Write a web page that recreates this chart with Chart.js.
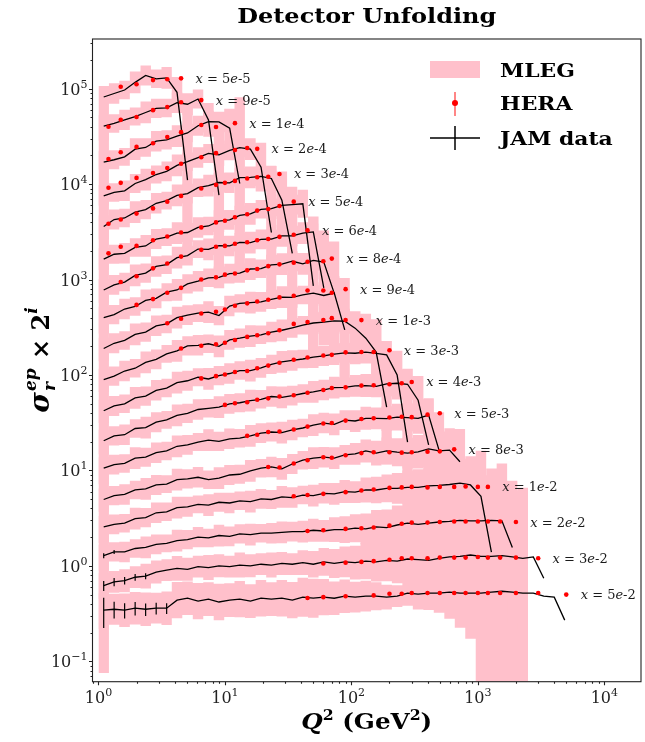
<!DOCTYPE html>
<html>
<head>
<meta charset="utf-8">
<script src="https://cdn.jsdelivr.net/npm/chart.js@4.4.0/dist/chart.umd.min.js"></script>
<style>
  html, body { margin: 0; padding: 0; background: #fff; }
  #wrap { width: 645px; height: 742px; }
</style>
</head>
<body>
<div id="wrap"><canvas id="unfoldChart" width="645" height="742"></canvas></div>
<script>
// x bins, top curve first; each curve is scaled by 2^i
const xBins = ["5e-5", "9e-5", "1e-4", "2e-4", "3e-4", "5e-4", "6e-4", "8e-4", "9e-4",
  "1e-3", "3e-3", "4e-3", "5e-3", "8e-3", "1e-2", "2e-2", "3e-2", "5e-2"];
const binPow = [17, 16, 15, 14, 13, 12, 11, 10, 9, 8, 7, 6, 5, 4, 3, 2, 1, 0];

// Q2 nodes of the JAM pseudo data and the MLEG bin edges
const q2Grid = [1.10, 1.33, 1.61, 1.95, 2.36, 2.86, 3.46, 4.18, 5.06, 6.13, 7.41, 8.97, 10.9, 13.1,
  15.9, 19.3, 23.3, 28.2, 34.1, 41.3, 50.0, 60.5, 73.2, 88.6, 107, 130, 157, 190, 230, 278, 337,
  408, 493, 597, 722, 874, 1058, 1280, 1549, 1874, 2268, 2745, 3321, 4019, 4862];
const q2Edges = [1.0, 1.21, 1.46, 1.77, 2.15, 2.6, 3.15, 3.8, 4.6, 5.57, 6.74, 8.15, 9.87, 11.9,
  14.4, 17.5, 21.2, 25.6, 31.0, 37.5, 45.4, 55.0, 66.5, 80.5, 97.3, 118, 143, 173, 209, 253, 306,
  371, 448, 543, 657, 795, 962, 1164, 1408, 1704, 2062, 2495, 3019, 3653, 4420, 5350];

// JAM data: sigma_r (unscaled) on q2Grid
const jamSigma = [
  [0.625, 0.68, 0.74, 0.89, 1.05, 0.97, 0.99, 0.70, 0.084],
  [0.62, 0.66, 0.72, 0.78, 0.86, 0.95, 0.96, 1.09, 1.05, 1.19, 0.72, 0.117],
  [0.52, 0.55, 0.59, 0.71, 0.74, 0.86, 0.89, 0.97, 1.05, 1.25, 1.38, 1.37, 1.18, 0.31],
  [0.46, 0.50, 0.52, 0.62, 0.68, 0.77, 0.83, 0.96, 1.05, 1.16, 1.28, 1.24, 1.38, 1.47, 1.42, 0.92, 0.19],
  [0.44, 0.52, 0.54, 0.62, 0.66, 0.77, 0.82, 0.93, 0.97, 1.12, 1.18, 1.27, 1.26, 1.43, 1.44, 1.47, 1.40, 0.83, 0.23],
  [0.40, 0.45, 0.46, 0.53, 0.55, 0.65, 0.68, 0.75, 0.76, 0.86, 0.89, 1.0, 1.03, 1.15, 1.19, 1.33, 1.35, 1.46, 1.49, 1.52, 0.21],
  [0.38, 0.43, 0.46, 0.54, 0.57, 0.67, 0.70, 0.83, 0.87, 1.02, 1.01, 1.11, 1.10, 1.20, 1.19, 1.29, 1.30, 1.40, 1.40, 1.50, 1.54, 0.40],
  [0.39, 0.42, 0.48, 0.51, 0.59, 0.62, 0.72, 0.76, 0.88, 0.94, 1.02, 1.03, 1.13, 1.14, 1.26, 1.27, 1.39, 1.42, 1.52, 1.43, 1.55, 1.49, 0.70],
  [0.37, 0.42, 0.45, 0.52, 0.55, 0.64, 0.67, 0.78, 0.83, 0.87, 0.89, 0.82, 1.03, 1.10, 1.12, 1.14, 1.21, 1.28, 1.27, 1.35, 1.41, 1.33, 1.41, 0.58],
  [0.35, 0.38, 0.43, 0.46, 0.53, 0.57, 0.65, 0.70, 0.79, 0.80, 0.83, 0.78, 0.91, 0.95, 1.0, 1.03, 1.10, 1.15, 1.22, 1.30, 1.37, 1.40, 1.44, 1.43, 1.21, 0.95, 0.68, 0.18],
  [0.33, 0.37, 0.39, 0.45, 0.47, 0.54, 0.57, 0.65, 0.68, 0.74, 0.71, 0.77, 0.81, 0.87, 0.87, 0.93, 1.01, 1.07, 1.11, 1.15, 1.20, 1.24, 1.29, 1.33, 1.32, 1.36, 1.32, 1.27, 0.78, 0.155],
  [0.32, 0.36, 0.37, 0.43, 0.44, 0.50, 0.53, 0.59, 0.62, 0.68, 0.70, 0.72, 0.78, 0.80, 0.84, 0.87, 0.93, 0.91, 0.95, 1.00, 1.04, 1.09, 1.15, 1.16, 1.20, 1.21, 1.19, 1.26, 1.28, 1.25, 0.85, 0.29],
  [0.33, 0.36, 0.37, 0.42, 0.43, 0.48, 0.50, 0.56, 0.58, 0.62, 0.65, 0.63, 0.67, 0.68, 0.72, 0.77, 0.79, 0.78, 0.83, 0.87, 0.93, 0.98, 0.95, 1.05, 1.03, 1.10, 1.10, 1.09, 1.13, 1.12, 1.10, 1.19, 0.51],
  [0.31, 0.34, 0.35, 0.39, 0.40, 0.44, 0.45, 0.50, 0.51, 0.53, 0.50, 0.52, 0.56, 0.57, 0.62, 0.66, 0.68, 0.65, 0.73, 0.80, 0.84, 0.86, 0.84, 0.91, 0.93, 1.0, 0.95, 1.0, 0.97, 0.95, 0.98, 1.05, 1.0, 1.02, 0.77],
  [0.32, 0.34, 0.35, 0.39, 0.40, 0.45, 0.46, 0.51, 0.52, 0.55, 0.54, 0.58, 0.57, 0.60, 0.59, 0.63, 0.62, 0.66, 0.65, 0.69, 0.68, 0.72, 0.71, 0.75, 0.74, 0.78, 0.78, 0.81, 0.81, 0.83, 0.83, 0.86, 0.87, 0.89, 0.92, 0.88, 0.67, 0.174],
  [0.32, 0.35, 0.35, 0.38, 0.39, 0.42, 0.43, 0.46, 0.47, 0.50, 0.49, 0.52, 0.51, 0.54, 0.53, 0.55, 0.55, 0.56, 0.57, 0.57, 0.59, 0.58, 0.60, 0.60, 0.62, 0.61, 0.64, 0.63, 0.67, 0.70, 0.68, 0.70, 0.72, 0.73, 0.75, 0.74, 0.74, 0.75, 0.74, 0.39],
  [0.31, 0.34, 0.35, 0.38, 0.39, 0.43, 0.45, 0.47, 0.46, 0.49, 0.48, 0.50, 0.49, 0.51, 0.50, 0.52, 0.51, 0.53, 0.52, 0.54, 0.52, 0.55, 0.53, 0.55, 0.54, 0.56, 0.55, 0.57, 0.56, 0.59, 0.58, 0.57, 0.60, 0.62, 0.63, 0.65, 0.63, 0.63, 0.64, 0.62, 0.60, 0.62, 0.37],
  [0.343, 0.351, 0.343, 0.36, 0.351, 0.36, 0.36, 0.437, 0.458, 0.427, 0.448, 0.418, 0.437, 0.448, 0.427, 0.458, 0.448, 0.458, 0.437, 0.47, 0.458, 0.47, 0.458, 0.481, 0.47, 0.481, 0.481, 0.47, 0.481, 0.517, 0.505, 0.517, 0.517, 0.53, 0.517, 0.517, 0.517, 0.53, 0.542, 0.53, 0.517, 0.517, 0.481, 0.47, 0.27]
];
// relative JAM uncertainties (only the low-Q2 nodes of the last bins are visible)
const jamErr = [[], [], [], [], [], [], [], [], [], [], [], [], [], [], [],
  [0.06, 0.05],
  [0.12, 0.10, 0.09, 0.08, 0.07],
  [0.35, 0.20, 0.18, 0.16, 0.15, 0.14, 0.13]];

// MLEG band: relative half width per bin, low edge of the first bin, number of bins
const mlegWidth = [
  [0.3, 0.28, 0.25, 0.3, 0.27, 0.25, 0.3, 0.45, 6],
  [0.3, 0.25, 0.28, 0.24, 0.3, 0.26, 0.25, 0.28, 0.3, 0.26, 0.5, 6],
  [0.3, 0.26, 0.24, 0.3, 0.25, 0.28, 0.26, 0.3, 0.25, 0.27, 0.3, 0.28, 0.6, 7],
  [0.3, 0.25, 0.28, 0.26, 0.3, 0.24, 0.27, 0.3, 0.25, 0.28, 0.26, 0.3, 0.27, 0.25, 0.3, 0.8, 4],
  [0.3, 0.27, 0.25, 0.3, 0.26, 0.28, 0.24, 0.3, 0.27, 0.25, 0.3, 0.26, 0.28, 0.25, 0.3, 0.27, 0.35, 1.0, 4],
  [0.3, 0.26, 0.28, 0.25, 0.3, 0.27, 0.24, 0.3, 0.26, 0.28, 0.25, 0.3, 0.27, 0.26, 0.3, 0.25, 0.28, 0.3, 0.27, 0.4, 3.5],
  [0.3, 0.27, 0.25, 0.3, 0.26, 0.28, 0.25, 0.3, 0.27, 0.24, 0.3, 0.26, 0.28, 0.25, 0.3, 0.27, 0.26, 0.3, 0.28, 0.3, 0.45, 3],
  [0.3, 0.26, 0.28, 0.25, 0.3, 0.27, 0.24, 0.3, 0.26, 0.28, 0.25, 0.3, 0.27, 0.26, 0.3, 0.25, 0.28, 0.3, 0.27, 0.3, 0.28, 0.5, 2.5],
  [0.3, 0.27, 0.25, 0.3, 0.26, 0.28, 0.25, 0.3, 0.27, 0.24, 0.3, 0.26, 0.28, 0.25, 0.3, 0.27, 0.26, 0.3, 0.28, 0.25, 0.3, 0.28, 0.5, 2.5],
  [0.3, 0.26, 0.28, 0.25, 0.3, 0.27, 0.24, 0.3, 0.26, 0.28, 0.25, 0.3, 0.27, 0.26, 0.3, 0.25, 0.28, 0.3, 0.27, 0.25, 0.3, 0.28, 0.3, 0.35, 0.5, 0.8, 1.2, 3],
  [0.3, 0.27, 0.25, 0.3, 0.26, 0.28, 0.25, 0.3, 0.27, 0.24, 0.3, 0.26, 0.28, 0.25, 0.3, 0.27, 0.26, 0.3, 0.28, 0.25, 0.3, 0.28, 0.3, 0.27, 0.3, 0.32, 0.35, 0.4, 0.8, 2.5],
  [0.3, 0.26, 0.28, 0.25, 0.3, 0.27, 0.24, 0.3, 0.26, 0.28, 0.25, 0.3, 0.27, 0.26, 0.3, 0.25, 0.28, 0.3, 0.27, 0.25, 0.3, 0.28, 0.3, 0.27, 0.3, 0.32, 0.3, 0.35, 0.4, 0.45, 0.8, 2],
  [0.3, 0.27, 0.25, 0.3, 0.26, 0.28, 0.25, 0.3, 0.27, 0.24, 0.3, 0.26, 0.28, 0.25, 0.3, 0.27, 0.26, 0.3, 0.28, 0.25, 0.3, 0.28, 0.3, 0.27, 0.3, 0.32, 0.3, 0.35, 0.38, 0.4, 0.45, 0.5, 1.5],
  [0.3, 0.26, 0.28, 0.25, 0.3, 0.27, 0.24, 0.3, 0.26, 0.28, 0.25, 0.3, 0.27, 0.26, 0.3, 0.25, 0.28, 0.3, 0.27, 0.25, 0.3, 0.28, 0.3, 0.27, 0.3, 0.32, 0.35, 0.38, 0.4, 0.45, 0.5, 0.55, 0.6, 0.7, 1.2],
  [0.3, 0.27, 0.25, 0.3, 0.26, 0.28, 0.25, 0.3, 0.27, 0.24, 0.3, 0.26, 0.28, 0.25, 0.3, 0.27, 0.26, 0.3, 0.28, 0.25, 0.3, 0.28, 0.3, 0.32, 0.3, 0.35, 0.38, 0.4, 0.45, 0.5, 0.55, 0.6, 0.65, 0.7, 0.8, 1.0, 2.0, 4.0],
  [0.3, 0.26, 0.28, 0.25, 0.3, 0.27, 0.24, 0.3, 0.26, 0.28, 0.25, 0.3, 0.27, 0.26, 0.3, 0.25, 0.28, 0.3, 0.27, 0.3, 0.32, 0.3, 0.35, 0.38, 0.4, 0.45, 0.5, 0.55, 0.6, 0.65, 0.7, 0.8, 0.9, 1.0, 1.2, 1.5, 2.0, 2.5, 3.0, 4.0],
  [0.35, 0.3, 0.32, 0.3, 0.35, 0.32, 0.3, 0.35, 0.32, 0.3, 0.35, 0.32, 0.3, 0.35, 0.32, 0.3, 0.35, 0.32, 0.3, 0.35, 0.38, 0.4, 0.42, 0.45, 0.5, 0.55, 0.6, 0.65, 0.7, 0.8, 0.9, 1.0, 1.1, 1.3, 1.5, 1.8, 2.5, 3.0, 3.5, 4.0, 4.5],
  [0.5, 0.45, 0.5, 0.48, 0.5, 0.45, 0.5, 0.55, 0.5, 0.55, 0.5, 0.55, 0.5, 0.55, 0.5, 0.55, 0.5, 0.55, 0.55, 0.6, 0.6, 0.55, 0.5, 0.5, 0.45, 0.45, 0.4, 0.35, 0.3, 0.35, 0.45, 0.5, 0.6, 0.9, 1.3, 2.0, 8.0, 9.0, 9.0, 9.0, 9.0]
];
const mlegFirstLow = [0.35, 0.35, 0.35, 0.35, 0.35, 0.35, 0.35, 0.35, 0.35,
  0.35, 0.35, 0.35, 0.35, 0.35, 0.35, 0.35, 0.35, 0.22];
const mlegBins = [9, 12, 14, 17, 19, 21, 22, 23, 24, 28, 30, 32, 33, 35, 38, 40, 41, 41];

// HERA measurements
const heraQ2 = [
  [1.5, 2, 2.7, 3.5, 4.5],
  [1.2, 1.5, 2, 2.7, 3.5, 4.5, 6.5],
  [1.2, 1.5, 2, 2.7, 3.5, 4.5, 6.5, 8.5, 12],
  [1.2, 1.5, 2, 2.7, 3.5, 4.5, 6.5, 8.5, 12, 15, 18],
  [1.2, 1.5, 2, 2.7, 3.5, 4.5, 6.5, 8.5, 10, 12, 15, 18, 22, 27],
  [1.2, 1.5, 2, 2.7, 3.5, 4.5, 6.5, 8.5, 10, 12, 15, 18, 22, 27, 35],
  [1.5, 2, 2.7, 3.5, 4.5, 6.5, 8.5, 10, 12, 15, 18, 22, 27, 35, 45],
  [2, 2.7, 3.5, 4.5, 6.5, 8.5, 10, 12, 15, 18, 22, 27, 35, 45, 60, 70],
  [3.5, 4.5, 6.5, 8.5, 10, 12, 15, 18, 22, 27, 35, 45, 60, 70, 90],
  [4.5, 6.5, 8.5, 10, 12, 15, 18, 22, 27, 35, 45, 60, 70, 90, 120],
  [6.5, 8.5, 10, 12, 15, 18, 22, 27, 35, 45, 60, 70, 90, 120, 150, 200],
  [10, 12, 15, 18, 22, 27, 35, 45, 60, 70, 90, 120, 150, 200, 250, 300],
  [15, 18, 22, 27, 35, 45, 60, 70, 90, 120, 150, 200, 250, 300, 400, 500],
  [22, 27, 35, 45, 60, 70, 90, 120, 150, 200, 250, 300, 400, 500, 650],
  [35, 45, 60, 90, 120, 150, 200, 250, 300, 400, 500, 650, 800, 1000, 1200],
  [45, 60, 90, 120, 150, 200, 250, 300, 400, 500, 650, 800, 1000, 1200, 1500, 2000],
  [60, 90, 120, 150, 200, 250, 300, 400, 500, 650, 800, 1000, 1200, 1500, 2000, 3000],
  [45, 60, 90, 150, 200, 250, 300, 400, 500, 650, 800, 1000, 1200, 1500, 2000, 3000, 5000]
];
const heraSigma = [
  [0.8, 0.85, 0.94, 0.96, 0.98],
  [0.61, 0.72, 0.77, 0.91, 0.98, 1.1, 1.16],
  [0.56, 0.66, 0.75, 0.82, 0.95, 1.07, 1.27, 1.21, 1.33],
  [0.56, 0.63, 0.71, 0.80, 0.90, 1.0, 1.17, 1.29, 1.39, 1.46, 1.43],
  [0.47, 0.52, 0.6, 0.68, 0.8, 0.92, 1.1, 1.2, 1.26, 1.32, 1.4, 1.44, 1.46, 1.56],
  [0.46, 0.54, 0.55, 0.63, 0.69, 0.76, 0.86, 0.97, 1.01, 1.1, 1.18, 1.29, 1.34, 1.44, 1.6],
  [0.46, 0.53, 0.64, 0.72, 0.85, 1.0, 1.08, 1.1, 1.16, 1.2, 1.26, 1.3, 1.37, 1.44, 1.6],
  [0.53, 0.61, 0.71, 0.8, 0.98, 1.03, 1.1, 1.13, 1.22, 1.26, 1.35, 1.41, 1.47, 1.5, 1.52, 1.62],
  [0.68, 0.76, 0.86, 0.9, 0.95, 1.04, 1.1, 1.15, 1.2, 1.27, 1.32, 1.5, 1.5, 1.42, 1.55],
  [0.74, 0.79, 0.82, 0.85, 0.91, 0.98, 1.02, 1.07, 1.15, 1.34, 1.4, 1.47, 1.54, 1.47, 1.47],
  [0.72, 0.76, 0.79, 0.84, 0.86, 0.92, 0.98, 1.05, 1.13, 1.19, 1.25, 1.27, 1.35, 1.36, 1.36, 1.42],
  [0.76, 0.79, 0.81, 0.86, 0.89, 0.93, 0.96, 1.02, 1.09, 1.14, 1.16, 1.21, 1.22, 1.25, 1.28, 1.32],
  [0.72, 0.74, 0.79, 0.8, 0.84, 0.9, 0.97, 0.98, 1.04, 1.08, 1.1, 1.12, 1.14, 1.13, 1.2, 1.24],
  [0.68, 0.67, 0.74, 0.8, 0.86, 0.85, 0.9, 0.95, 0.97, 0.97, 0.96, 0.97, 0.98, 0.99, 1.04],
  [0.67, 0.69, 0.71, 0.74, 0.77, 0.79, 0.82, 0.83, 0.84, 0.83, 0.84, 0.84, 0.85, 0.84, 0.84],
  [0.58, 0.59, 0.61, 0.62, 0.63, 0.66, 0.69, 0.71, 0.71, 0.72, 0.73, 0.73, 0.73, 0.73, 0.73, 0.72],
  [0.53, 0.54, 0.55, 0.56, 0.58, 0.6, 0.6, 0.6, 0.61, 0.61, 0.61, 0.62, 0.61, 0.61, 0.61, 0.6],
  [0.46, 0.47, 0.48, 0.49, 0.51, 0.51, 0.52, 0.52, 0.52, 0.52, 0.52, 0.52, 0.52, 0.52, 0.52, 0.52, 0.5]
];
const heraErr = 0.03;

// axis ticks
const xTickVals = [1, 10, 100, 1000, 10000];
const xTickExp = ["0", "1", "2", "3", "4"];
const yTickVals = [0.1, 1, 10, 100, 1000, 10000, 100000];
const yTickExp = ["\u22121", "0", "1", "2", "3", "4", "5"];

const SERIF = '"DejaVu Serif", "Liberation Serif", serif';
const PINK = "#ffc0cb";

// ---- build datasets ----
const datasets = [];
xBins.forEach((lab, k) => {
  const f = Math.pow(2, binPow[k]);
  const vals = jamSigma[k];
  const n = mlegBins[k];
  const lo = [], hi = [];
  for (let i = 0; i <= n; i++) {
    const j = Math.min(i, n - 1);
    const v = vals[Math.min(j, vals.length - 1)] * f;
    const w = mlegWidth[k][j] !== undefined ? mlegWidth[k][j] : 0.28;
    lo.push({ x: q2Edges[i], y: j === 0 ? v * mlegFirstLow[k] : v / (1 + w) });
    hi.push({ x: q2Edges[i], y: v * (1 + w) });
  }
  datasets.push({ data: lo, stepped: true, borderWidth: 0, borderColor: "transparent",
    pointRadius: 0, fill: false, order: 3 });
  datasets.push({ data: hi, stepped: true, borderWidth: 0, borderColor: "transparent",
    pointRadius: 0, fill: "-1", backgroundColor: PINK, order: 3 });
});
xBins.forEach((lab, k) => {
  const f = Math.pow(2, binPow[k]);
  datasets.push({
    data: jamSigma[k].map((v, i) => ({ x: q2Grid[i], y: v * f })),
    borderColor: "#000", borderWidth: 1.3, pointRadius: 0, fill: false, tension: 0,
    order: 2, jamBin: k
  });
});
xBins.forEach((lab, k) => {
  const f = Math.pow(2, binPow[k]);
  datasets.push({
    data: heraSigma[k].map((v, i) => ({ x: heraQ2[k][i], y: v * f })),
    showLine: false, pointRadius: 2.3, pointBackgroundColor: "#ff0000",
    pointBorderWidth: 0, order: 1, heraBin: k
  });
});

// ---- text helpers ----
function runsWidth(ctx, runs, sx) {
  let w = 0;
  runs.forEach(r => { ctx.font = r.font; w += ctx.measureText(r.t).width * sx; });
  return w;
}
function drawRuns(ctx, runs, x, y, align, sx) {
  sx = sx || 1;
  const w = runsWidth(ctx, runs, sx);
  let cx = align === "center" ? x - w / 2 : align === "right" ? x - w : x;
  ctx.textAlign = "left";
  ctx.textBaseline = "alphabetic";
  runs.forEach(r => {
    ctx.font = r.font;
    ctx.save();
    ctx.translate(cx, y + (r.dy || 0));
    ctx.scale(sx, 1);
    ctx.fillText(r.t, 0, 0);
    ctx.restore();
    cx += ctx.measureText(r.t).width * sx;
  });
}

const decorPlugin = {
  id: "decor",
  beforeDatasetDraw(chart, args) {
    const ds = chart.data.datasets[args.index];
    if (ds.heraBin === undefined) return;
    const { ctx, scales: { x, y } } = chart;
    ctx.save();
    ctx.strokeStyle = "rgba(255,40,40,0.75)";
    ctx.lineWidth = 1.2;
    ds.data.forEach(p => {
      const px = x.getPixelForValue(p.x);
      ctx.beginPath();
      ctx.moveTo(px, y.getPixelForValue(p.y * (1 - heraErr)));
      ctx.lineTo(px, y.getPixelForValue(p.y * (1 + heraErr)));
      ctx.stroke();
    });
    ctx.restore();
  },
  afterDatasetsDraw(chart) {
    const { ctx, chartArea: a, scales: { x, y } } = chart;
    ctx.save();
    ctx.beginPath();
    ctx.rect(a.left, a.top, a.right - a.left, a.bottom - a.top);
    ctx.clip();
    // JAM error bars
    ctx.strokeStyle = "#000";
    ctx.lineWidth = 1.2;
    xBins.forEach((lab, k) => {
      const f = Math.pow(2, binPow[k]);
      jamErr[k].forEach((e, i) => {
        const v = jamSigma[k][i] * f;
        const px = x.getPixelForValue(q2Grid[i]);
        ctx.beginPath();
        ctx.moveTo(px, y.getPixelForValue(v * (1 - e)));
        ctx.lineTo(px, y.getPixelForValue(v * (1 + e)));
        ctx.stroke();
      });
    });
    // bin labels next to the last HERA point
    ctx.fillStyle = "#1a1a1a";
    xBins.forEach((lab, k) => {
      const qs = heraQ2[k], vs = heraSigma[k];
      const last = qs.length - 1;
      const px = x.getPixelForValue(qs[last] * 1.3);
      const py = y.getPixelForValue(vs[last] * Math.pow(2, binPow[k]));
      const parts = lab.split("e");
      drawRuns(ctx, [
        { t: "x", font: "italic 13px " + SERIF },
        { t: " = ", font: "13px " + SERIF },
        { t: parts[0], font: "13px " + SERIF },
        { t: "e", font: "italic 13px " + SERIF },
        { t: parts[1], font: "13px " + SERIF }
      ], px, py + 4.5, "left", 1);
    });
    ctx.restore();
  },
  afterDraw(chart) {
    const { ctx, chartArea: a, scales: { x, y } } = chart;
    ctx.save();
    // frame
    ctx.strokeStyle = "#222";
    ctx.lineWidth = 1.1;
    ctx.strokeRect(a.left, a.top, a.right - a.left, a.bottom - a.top);
    // ticks
    ctx.beginPath();
    for (let d = -2; d <= 5; d++) {
      for (let m = 1; m <= 9; m++) {
        const v = m * Math.pow(10, d);
        if (v < y.min || v > y.max) continue;
        const py = Math.round(y.getPixelForValue(v)) + 0.5;
        ctx.moveTo(a.left, py);
        ctx.lineTo(a.left - (m === 1 ? 3.5 : 2), py);
      }
    }
    for (let d = -1; d <= 4; d++) {
      for (let m = 1; m <= 9; m++) {
        const v = m * Math.pow(10, d);
        if (v < x.min || v > x.max) continue;
        const px = Math.round(x.getPixelForValue(v)) + 0.5;
        ctx.moveTo(px, a.bottom);
        ctx.lineTo(px, a.bottom + (m === 1 ? 3.5 : 2));
      }
    }
    ctx.stroke();
    // tick labels
    ctx.fillStyle = "#222";
    yTickVals.forEach((v, i) => {
      const py = y.getPixelForValue(v);
      drawRuns(ctx, [
        { t: "10", font: "16px " + SERIF },
        { t: yTickExp[i], font: "11px " + SERIF, dy: -7 }
      ], a.left - 5, py + 6, "right", 1);
    });
    xTickVals.forEach((v, i) => {
      const px = x.getPixelForValue(v);
      drawRuns(ctx, [
        { t: "10", font: "16px " + SERIF },
        { t: xTickExp[i], font: "11px " + SERIF, dy: -7 }
      ], px, 703, "center", 1);
    });
    // title
    ctx.fillStyle = "#000";
    drawRuns(ctx, [{ t: "Detector Unfolding", font: "bold 20px " + SERIF }],
      (a.left + a.right) / 2, 23, "center", 1.2);
    // x axis label
    drawRuns(ctx, [
      { t: "Q", font: "bold italic 22px " + SERIF },
      { t: "2", font: "bold 14px " + SERIF, dy: -9 },
      { t: " (GeV", font: "bold 22px " + SERIF },
      { t: "2", font: "bold 14px " + SERIF, dy: -9 },
      { t: ")", font: "bold 22px " + SERIF }
    ], (a.left + a.right) / 2, 729, "center", 1.12);
    // y axis label (rotated)
    ctx.save();
    ctx.translate(49, 360);
    ctx.rotate(-Math.PI / 2);
    const sig = "bold italic 28px " + SERIF;
    const sub = "bold italic 17px " + SERIF;
    const big = "bold 24px " + SERIF;
    ctx.font = sig; const wS = ctx.measureText("\u03c3").width;
    ctx.font = sub; const wE = ctx.measureText("ep").width;
    ctx.font = big; const wX = ctx.measureText(" \u00d7 2").width;
    ctx.font = sub; const wI = ctx.measureText("i").width;
    const total = wS + wE + wX + wI + 2;
    let cx = -total / 2;
    ctx.textBaseline = "alphabetic";
    ctx.textAlign = "left";
    ctx.font = sig; ctx.fillText("\u03c3", cx, 0); cx += wS + 1;
    ctx.font = sub; ctx.fillText("ep", cx, -13); ctx.fillText("r", cx, 6); cx += wE + 1;
    ctx.font = big; ctx.fillText(" \u00d7 2", cx, 0); cx += wX;
    ctx.font = sub; ctx.fillText("i", cx, -12);
    ctx.restore();
    // legend
    ctx.fillStyle = PINK;
    ctx.fillRect(430, 61, 50, 17);
    ctx.strokeStyle = "rgba(255,40,40,0.75)";
    ctx.lineWidth = 1.5;
    ctx.beginPath(); ctx.moveTo(455, 92); ctx.lineTo(455, 116); ctx.stroke();
    ctx.fillStyle = "#ff0000";
    ctx.beginPath(); ctx.arc(455, 103, 3, 0, Math.PI * 2); ctx.fill();
    ctx.strokeStyle = "#000";
    ctx.beginPath();
    ctx.moveTo(430, 138); ctx.lineTo(480, 138);
    ctx.moveTo(455, 126); ctx.lineTo(455, 150);
    ctx.stroke();
    ctx.fillStyle = "#000";
    const lf = "bold 19px " + SERIF;
    drawRuns(ctx, [{ t: "MLEG", font: lf }], 500, 77, "left", 1.15);
    drawRuns(ctx, [{ t: "HERA", font: lf }], 500, 110, "left", 1.15);
    drawRuns(ctx, [{ t: "JAM data", font: lf }], 500, 145, "left", 1.15);
    ctx.restore();
  }
};

new Chart(document.getElementById("unfoldChart"), {
  type: "line",
  data: { datasets: datasets },
  options: {
    responsive: false,
    animation: false,
    devicePixelRatio: 1,
    events: [],
    layout: { padding: { left: 92.5, right: 2.3, top: 39, bottom: 60.3 } },
    scales: {
      x: { type: "logarithmic", min: 0.897, max: 19500, display: false },
      y: { type: "logarithmic", min: 0.0611, max: 332000, display: false }
    },
    plugins: { legend: { display: false }, tooltip: { enabled: false } }
  },
  plugins: [decorPlugin]
});
</script>
</body>
</html>
